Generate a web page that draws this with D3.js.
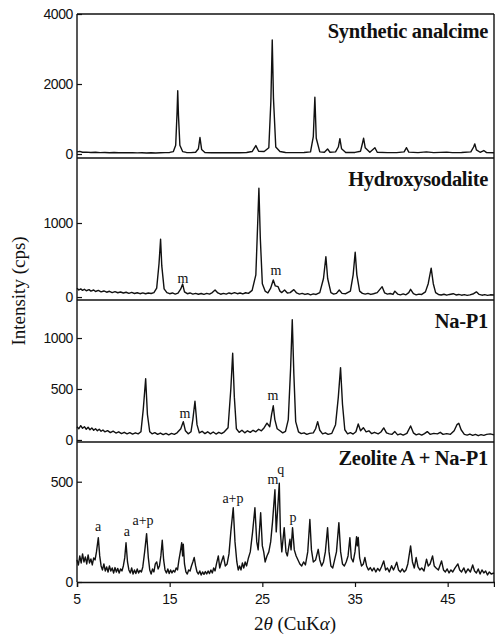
<!DOCTYPE html>
<html>
<head>
<meta charset="utf-8">
<style>
  body { margin: 0; background: #fff; }
  .tick-label { font: 14px "Liberation Sans", Arial, sans-serif; letter-spacing: -0.4px; fill: #111; }
  .title { font: bold 20.5px "Liberation Serif", "Times New Roman", serif; letter-spacing: -0.3px; fill: #111; }
  .note { font: 14px "Liberation Serif", "Times New Roman", serif; fill: #111; }
  .axis-title { font: 19px "Liberation Serif", "Times New Roman", serif; fill: #111; }
  .trace { fill: none; stroke: #111; stroke-width: 1.4px; stroke-linejoin: round; }
  .frame { stroke: #111; stroke-width: 1.4px; }
</style>
</head>
<body>
<svg width="495" height="636"></svg>
<script src="https://cdn.jsdelivr.net/npm/d3@7"></script>
<script>
// panel titles, top to bottom
var titles = ["Synthetic analcime", "Hydroxysodalite", "Na-P1", "Zeolite A + Na-P1"];

// y tick labels of each panel (cps)
var yTicks = [[0, 2000, 4000], [0, 1000], [0, 500, 1000], [0, 500]];
// y ranges of each panel (cps)
var yDomains = [[-114, 4000], [-40, 1878], [-20, 1373], [0, 698]];

var xTicks = [5, 15, 25, 35, 45];

// traces: [2theta, intensity]
var analcime = [
  [5,60],[5.3,75],[5.6,50],[6,55],[6.5,45],[7,50],[7.5,40],[8,45],[8.5,38],[9,42],[9.5,35],[10,40],[10.5,35],[11,38],
  [11.5,33],[12,36],[12.5,30],[13,34],[13.5,30],[14,35],[14.5,40],[15,45],[15.4,70],[15.65,250],[15.8,1200],[15.87,1810],
  [15.95,1100],[16.1,250],[16.4,70],[16.8,45],[17.3,40],[17.8,50],[18.1,150],[18.27,470],[18.45,130],[18.8,45],[19.5,38],
  [20.5,35],[21.5,40],[22.5,38],[23.3,45],[23.9,70],[24.3,240],[24.6,80],[25.2,70],[25.7,180],[25.92,1500],[26.07,3260],
  [26.2,1600],[26.45,200],[26.9,70],[27.5,45],[28.5,40],[29.5,42],[30.2,60],[30.5,500],[30.67,1620],[30.82,450],[31.2,60],
  [31.7,50],[32.04,145],[32.3,50],[32.9,60],[33.2,200],[33.37,440],[33.55,150],[34,45],[35,45],[35.6,80],[35.8,300],
  [35.93,450],[36.1,180],[36.6,50],[37.15,180],[37.4,50],[38.5,40],[39.5,40],[40.3,60],[40.56,180],[40.8,55],[41.8,40],
  [42.7,60],[43.5,40],[44.9,55],[45.5,40],[46.5,42],[47.5,60],[47.8,200],[47.93,290],[48.1,120],[48.5,50],[48.9,100],
  [49.2,40],[50,35]
];

var hydroxysodalite = [
  [5,120],[5.2,95],[5.4,110],[5.6,90],[5.8,105],[6,85],[6.3,100],[6.5,80],[6.8,95],[7,75],[7.3,90],[7.6,70],[7.9,82],
  [8.2,65],[8.5,78],[8.8,60],[9.1,72],[9.4,58],[9.7,68],[10,55],[10.3,65],[10.6,50],[10.9,62],[11.2,48],[11.5,58],
  [11.8,45],[12.1,56],[12.4,44],[12.7,55],[13,48],[13.3,60],[13.6,120],[13.85,450],[14.02,780],[14.15,420],[14.4,110],
  [14.7,60],[15,45],[15.3,55],[15.6,40],[15.9,52],[16.2,110],[16.4,175],[16.6,70],[16.9,45],[17.2,55],[17.5,40],[17.8,50],
  [18.1,38],[18.4,48],[18.7,36],[19,50],[19.3,40],[19.6,60],[19.9,95],[20.2,55],[20.5,38],[20.8,50],[21.1,40],[21.4,55],
  [21.7,45],[22,60],[22.3,45],[22.6,55],[22.9,42],[23.2,58],[23.5,50],[23.9,90],[24.3,300],[24.5,1000],[24.63,1470],
  [24.78,800],[25,180],[25.3,80],[25.6,55],[25.9,120],[26.18,230],[26.4,150],[26.7,140],[26.9,80],[27.1,60],[27.4,95],
  [27.7,55],[28,60],[28.4,100],[28.7,55],[29,40],[29.3,50],[29.6,35],[29.9,45],[30.2,30],[30.5,42],[30.8,35],[31.2,60],
  [31.6,250],[31.86,545],[32.05,250],[32.4,60],[32.7,40],[33,50],[33.3,95],[33.6,50],[34,45],[34.5,80],[34.8,300],
  [35.02,605],[35.2,300],[35.5,80],[35.8,50],[36.1,40],[36.4,50],[36.7,35],[37,45],[37.4,60],[37.93,140],[38.2,55],
  [38.5,40],[38.8,48],[39.1,35],[39.3,80],[39.6,40],[39.9,30],[40.2,42],[40.5,30],[40.8,60],[41,104],[41.3,45],[41.6,30],
  [41.9,40],[42.2,35],[42.6,70],[42.9,180],[43.22,390],[43.45,180],[43.7,60],[44,35],[44.3,28],[44.6,38],[44.9,25],
  [45.2,35],[45.6,45],[45.9,28],[46.2,35],[46.5,25],[46.8,32],[47.1,22],[47.4,30],[47.8,45],[48.1,70],[48.4,35],
  [48.7,25],[49,32],[49.3,22],[49.6,30],[50,28]
];

var naP1 = [
  [5,130],[5.2,110],[5.4,140],[5.6,115],[5.8,130],[6,105],[6.2,125],[6.4,100],[6.6,118],[6.8,95],[7,110],[7.2,90],
  [7.4,105],[7.6,85],[7.8,98],[8,80],[8.3,92],[8.6,72],[8.9,86],[9.2,68],[9.5,80],[9.8,62],[10.1,75],[10.4,60],[10.7,72],
  [11,58],[11.3,70],[11.6,60],[11.9,80],[12.15,300],[12.41,600],[12.6,250],[12.85,80],[13.1,60],[13.4,72],[13.7,55],
  [14,68],[14.3,52],[14.6,65],[14.9,50],[15.2,64],[15.5,55],[15.8,70],[16.2,110],[16.47,180],[16.7,90],[17,60],[17.3,80],
  [17.5,200],[17.73,380],[17.95,150],[18.2,70],[18.5,85],[18.8,62],[19.1,80],[19.4,60],[19.7,78],[20,58],[20.3,75],
  [20.6,62],[20.9,80],[21.3,120],[21.6,500],[21.8,850],[21.98,420],[22.2,110],[22.5,75],[22.8,95],[23.1,70],[23.4,90],
  [23.7,75],[24,95],[24.3,80],[24.6,105],[24.9,90],[25.2,120],[25.5,165],[25.8,130],[26,250],[26.18,335],[26.35,200],
  [26.6,110],[26.9,90],[27.2,70],[27.5,85],[27.8,200],[28.05,700],[28.23,1180],[28.4,650],[28.6,180],[28.9,80],[29.2,62],
  [29.5,70],[29.8,55],[30.1,65],[30.5,70],[30.75,110],[30.97,180],[31.2,95],[31.5,60],[31.8,70],[32.1,55],[32.5,65],
  [32.9,150],[33.2,420],[33.44,710],[33.65,350],[33.9,100],[34.2,60],[34.5,72],[34.8,58],[35.1,80],[35.35,157],[35.6,90],
  [35.9,120],[36.2,80],[36.5,90],[36.8,62],[37.1,75],[37.5,60],[37.8,78],[38.1,118],[38.4,70],[38.7,60],[39,55],
  [39.3,82],[39.6,50],[39.9,60],[40.2,48],[40.6,65],[41,137],[41.3,70],[41.6,50],[41.9,60],[42.2,48],[42.5,62],[42.8,82],
  [43.1,55],[43.5,65],[43.9,60],[44.2,75],[44.5,55],[44.9,62],[45.3,55],[45.7,90],[46,150],[46.2,163],[46.45,100],
  [46.8,55],[47.1,48],[47.4,58],[47.7,45],[48,55],[48.3,42],[48.6,52],[48.9,45],[49.2,55],[49.6,60],[50,50]
];

var zeoliteA = [
  [5,110],[5.15,85],[5.3,130],[5.45,95],[5.6,140],[5.75,100],[5.9,125],[6.05,90],[6.2,135],[6.35,95],[6.5,115],[6.65,85],
  [6.8,120],[6.95,110],[7.1,150],[7.3,221],[7.45,130],[7.6,80],[7.75,60],[7.9,90],[8.05,55],[8.2,75],[8.35,50],[8.5,80],
  [8.65,55],[8.8,70],[8.95,45],[9.1,72],[9.25,50],[9.4,68],[9.55,45],[9.7,65],[9.85,55],[10,80],[10.15,120],[10.29,196],
  [10.45,100],[10.6,60],[10.75,45],[10.9,70],[11.05,40],[11.2,60],[11.35,42],[11.5,65],[11.65,45],[11.8,58],[11.95,50],
  [12.1,75],[12.3,150],[12.51,241],[12.7,120],[12.85,60],[13,40],[13.15,65],[13.3,50],[13.45,90],[13.6,100],[13.75,65],
  [13.9,80],[14.05,130],[14.2,208],[14.35,110],[14.5,60],[14.65,45],[14.8,65],[14.95,42],[15.1,60],[15.25,45],[15.4,58],
  [15.55,50],[15.7,70],[15.85,60],[16,110],[16.15,150],[16.3,196],[16.4,130],[16.47,188],[16.6,90],[16.75,50],[16.9,40],
  [17.05,60],[17.2,55],[17.35,80],[17.5,100],[17.65,122],[17.8,80],[17.95,50],[18.1,40],[18.25,55],[18.4,35],[18.55,50],
  [18.7,38],[18.85,52],[19,40],[19.15,55],[19.3,42],[19.45,60],[19.6,45],[19.75,70],[19.9,55],[20.05,90],[20.25,130],
  [20.4,70],[20.55,95],[20.8,130],[21,80],[21.2,90],[21.4,140],[21.6,250],[21.86,370],[22.05,200],[22.25,100],[22.4,60],
  [22.55,80],[22.7,60],[22.85,95],[23,70],[23.15,100],[23.3,80],[23.5,120],[23.7,150],[23.95,250],[24.2,370],[24.4,200],
  [24.55,160],[24.82,345],[25,180],[25.15,150],[25.3,100],[25.5,130],[25.7,150],[25.9,200],[26.1,300],[26.36,460],
  [26.5,250],[26.83,493],[26.95,250],[27.1,150],[27.36,271],[27.55,150],[27.7,130],[27.98,213],[28.1,160],[28.26,271],
  [28.45,160],[28.65,130],[28.85,110],[29.05,90],[29.25,80],[29.45,100],[29.65,85],[29.9,150],[30.13,312],[30.3,160],
  [30.5,100],[30.75,110],[31.03,163],[31.2,110],[31.4,80],[31.6,100],[31.8,150],[32.04,271],[32.2,150],[32.4,80],
  [32.6,70],[32.8,110],[33,150],[33.26,296],[33.45,150],[33.65,90],[33.85,80],[34.05,100],[34.25,130],[34.45,221],
  [34.6,120],[34.8,100],[35,150],[35.17,226],[35.25,180],[35.35,222],[35.5,120],[35.7,80],[35.9,90],[36.07,122],
  [36.25,80],[36.45,60],[36.65,72],[36.85,55],[37.05,70],[37.25,50],[37.45,68],[37.65,55],[37.85,75],[38.1,105],
  [38.3,60],[38.5,70],[38.7,50],[38.95,81],[39.15,60],[39.3,75],[39.5,99],[39.7,60],[39.9,50],[40.1,65],[40.3,50],
  [40.5,60],[40.7,90],[41,180],[41.2,100],[41.4,70],[41.6,122],[41.8,75],[42,60],[42.2,70],[42.45,55],[42.72,114],
  [42.9,80],[43.1,90],[43.37,130],[43.55,80],[43.75,70],[44,60],[44.34,105],[44.55,60],[44.75,50],[44.95,65],[45.15,45],
  [45.35,60],[45.55,50],[45.8,70],[46.1,90],[46.3,60],[46.5,50],[46.75,70],[46.95,45],[47.2,65],[47.45,50],[47.7,85],
  [47.9,55],[48.1,45],[48.3,65],[48.5,40],[48.7,60],[48.9,45],[49.1,55],[49.3,35],[49.5,50],[49.7,40],[50,45]
];

// peak labels: [text, 2theta, intensity]
var notes = [
  [],
  [["m", 16.43, 189], ["m", 26.47, 297]],
  [["m", 16.65, 216], ["m", 26.14, 392]],
  [["a", 7.27, 252], ["a", 10.39, 228], ["a+p", 12.12, 282], ["a+p", 21.83, 396],
   ["m", 26.14, 490], ["q", 27.0, 540], ["p", 28.3, 297]]
];

var traces = [analcime, hydroxysodalite, naP1, zeoliteA];

var svg = d3.select("svg"),
    left = 77, right = 494,
    edges = [14, 158, 300, 442, 582];

var x = d3.scaleLinear().domain([5, 50]).range([left, right]);

titles.forEach(function(title, i) {
  var y = d3.scaleLinear().domain(yDomains[i]).range([edges[i + 1], edges[i]]);
  var g = svg.append("g");

  g.append("path")
    .datum(traces[i])
    .attr("class", "trace")
    .attr("d", d3.line().x(function(d) { return x(d[0]); }).y(function(d) { return y(d[1]); }));

  // y axis, ticks pointing inward
  var ax = g.append("g")
    .attr("transform", "translate(" + left + ",0)")
    .call(d3.axisRight(y).tickValues(yTicks[i]).tickSize(5).tickFormat(""));
  ax.select(".domain").remove();
  ax.selectAll("line").attr("stroke", "#111").attr("stroke-width", 1.2);

  g.selectAll(".tick-label")
    .data(yTicks[i])
    .enter().append("text")
    .attr("class", "tick-label")
    .attr("x", left - 4)
    .attr("y", function(d) { return y(d); })
    .attr("dy", "0.36em")
    .attr("text-anchor", "end")
    .text(function(d) { return d; });

  g.append("text")
    .attr("class", "title")
    .attr("x", 488)
    .attr("y", edges[i] + [24, 28, 28, 23][i])
    .attr("text-anchor", "end")
    .text(title);

  g.selectAll(".note")
    .data(notes[i])
    .enter().append("text")
    .attr("class", "note")
    .attr("x", function(d) { return x(d[1]); })
    .attr("y", function(d) { return y(d[2]); })
    .attr("text-anchor", "middle")
    .text(function(d) { return d[0]; });

  // panel top border
  svg.append("line").attr("class", "frame")
    .attr("x1", left).attr("x2", right)
    .attr("y1", edges[i]).attr("y2", edges[i]);
});

// outer frame
svg.append("line").attr("class", "frame")
  .attr("x1", left).attr("x2", left).attr("y1", edges[0]).attr("y2", edges[4]);
svg.append("line").attr("class", "frame")
  .attr("x1", right).attr("x2", right).attr("y1", edges[0]).attr("y2", edges[4]);

var xa = svg.append("g")
  .attr("transform", "translate(0," + edges[4] + ")")
  .call(d3.axisBottom(x).tickValues(xTicks).tickSize(5).tickFormat(""));
xa.select(".domain").attr("stroke", "#111").attr("stroke-width", 1.4);
xa.selectAll("line").attr("stroke", "#111").attr("stroke-width", 1.2);

svg.selectAll(".xlab")
  .data(xTicks)
  .enter().append("text")
  .attr("class", "tick-label xlab")
  .attr("x", function(d) { return x(d); })
  .attr("y", 604)
  .attr("text-anchor", "middle")
  .text(function(d) { return d; });

var xt = svg.append("text")
  .attr("class", "axis-title")
  .attr("x", 295)
  .attr("y", 630)
  .attr("text-anchor", "middle");
xt.append("tspan").text("2");
xt.append("tspan").attr("font-style", "italic").text("\u03b8");
xt.append("tspan").text(" (CuK");
xt.append("tspan").attr("font-style", "italic").text("\u03b1");
xt.append("tspan").text(")");

svg.append("text")
  .attr("class", "axis-title")
  .attr("transform", "translate(25,291) rotate(-90)")
  .attr("text-anchor", "middle")
  .text("Intensity (cps)");
</script>
</body>
</html>
